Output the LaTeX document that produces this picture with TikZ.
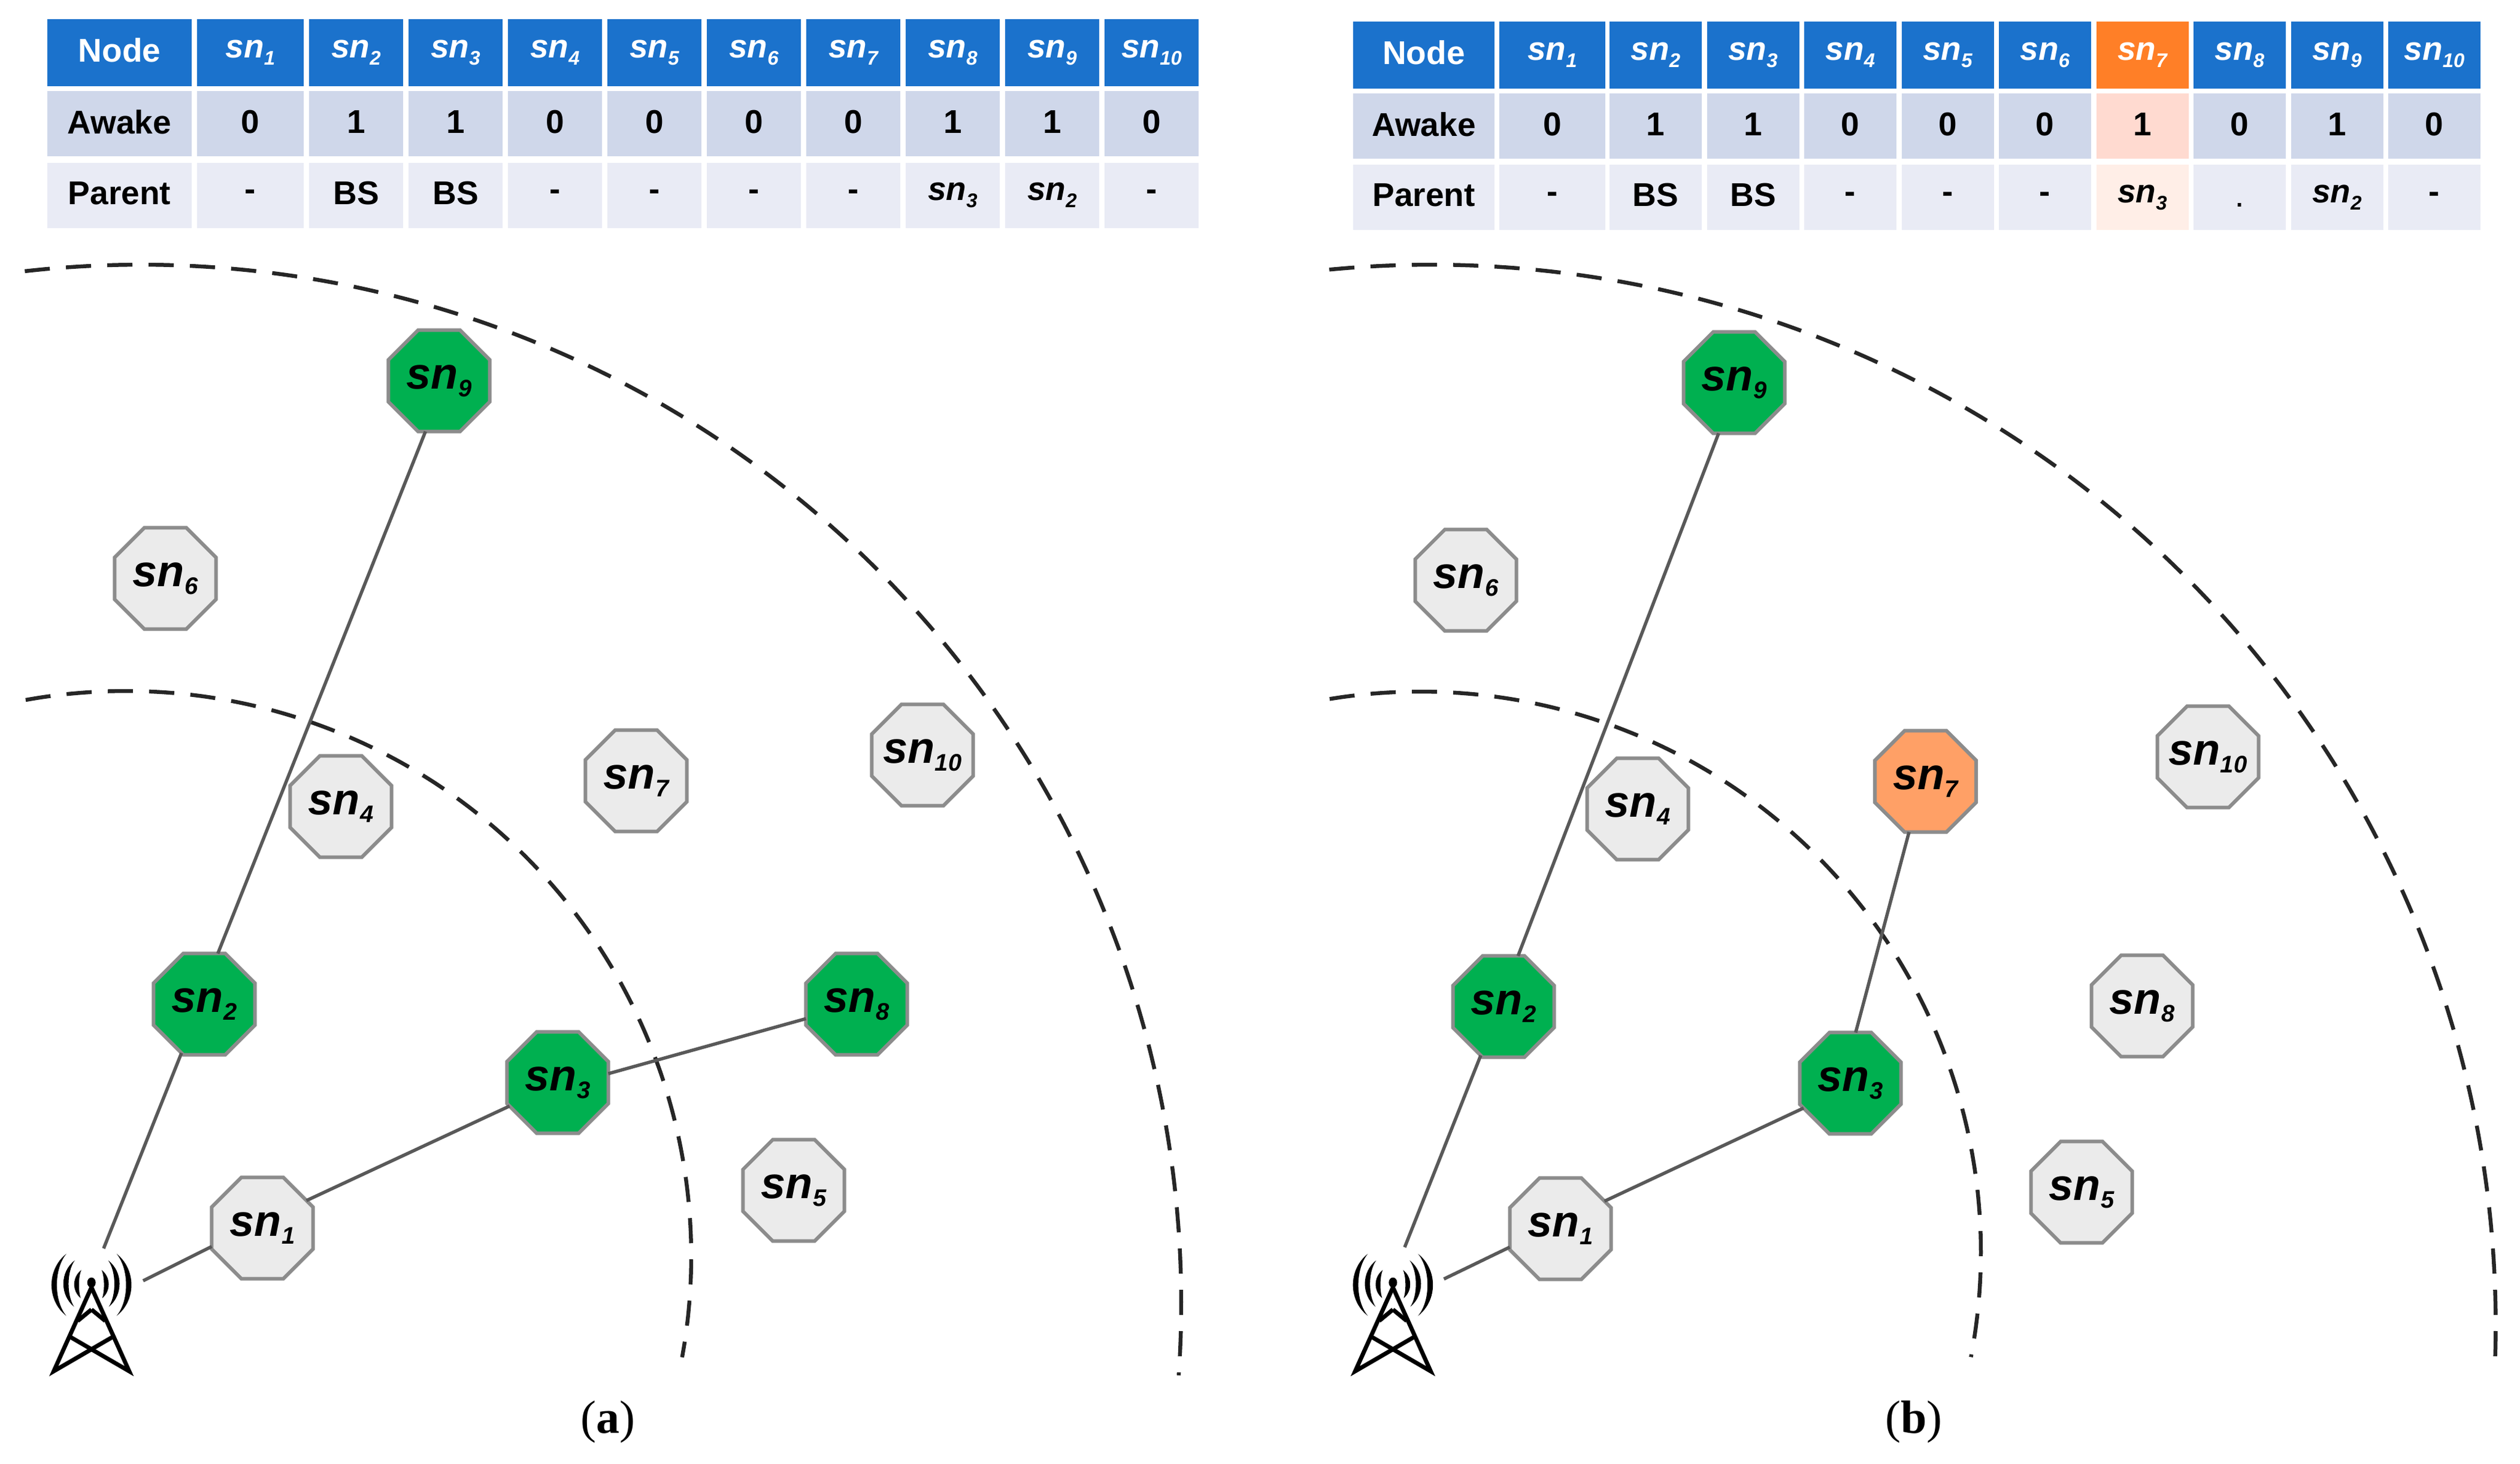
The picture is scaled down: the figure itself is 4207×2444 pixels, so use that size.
\documentclass[tikz,border=0pt]{standalone}
\usepackage{fontspec}
\setmainfont{Liberation Sans}
\newfontfamily\capfont{Liberation Serif}
\usetikzlibrary{shapes.geometric}
\definecolor{hdblue}{HTML}{1B72CC}
\definecolor{hdorange}{HTML}{FF7F27}
\definecolor{rowa}{HTML}{CFD7EA}
\definecolor{rowp}{HTML}{E9EBF5}
\definecolor{hota}{HTML}{FFDAD0}
\definecolor{hotp}{HTML}{FFEEE7}
\definecolor{grn}{HTML}{00B050}
\definecolor{idle}{HTML}{EBEBEB}
\definecolor{wake}{HTML}{FFA066}
\definecolor{edgeg}{HTML}{8C8C8C}
\definecolor{linkg}{HTML}{595959}
\definecolor{dashg}{HTML}{262626}
\newcommand\snt[1]{{\fontsize{55}{60}\selectfont\bfseries\itshape sn\raisebox{-12pt}{\fontsize{33}{36}\selectfont #1}}}
\newcommand\snn[1]{{\fontsize{74}{80}\selectfont\bfseries\itshape sn\raisebox{-13pt}{\fontsize{40}{44}\selectfont #1}}}
\newcommand\plaintxt[1]{{\fontsize{55}{60}\selectfont\bfseries #1}}
\newcommand\rtxt[2]{\plaintxt{\raisebox{#1}{#2}}}
\newcommand\hy{\rtxt{-4pt}{-}}
\newcommand\bs{\rtxt{8pt}{BS}}
\newcommand\dotmark{{\fontsize{40}{44}\selectfont\bfseries\raisebox{-16pt}[0pt][0pt]{.}}}
\tikzset{
  cellbox/.style={inner sep=0pt,outer sep=0pt},
  hd/.style={cellbox,fill=hdblue,text=white,minimum height=112pt},
  hdhot/.style={cellbox,fill=hdorange,text=white,minimum height=112pt},
  aw/.style={cellbox,fill=rowa,minimum height=109pt},
  awhot/.style={cellbox,fill=hota,minimum height=109pt},
  pa/.style={cellbox,fill=rowp,minimum height=109pt},
  pahot/.style={cellbox,fill=hotp,minimum height=109pt},
  octa/.style={regular polygon,regular polygon sides=8,minimum size=183pt,inner sep=-30pt,outer sep=0pt,draw=edgeg,line width=6pt},
  sleepn/.style={octa,fill=idle},
  activen/.style={octa,fill=grn},
  newn/.style={octa,fill=wake},
  linkline/.style={draw=linkg,line width=5.5pt},
  rangearc/.style={draw=dashg,line width=6.5pt,dash pattern=on 42pt off 27pt},
  capt/.style={inner sep=0pt,font=\capfont\fontsize{78}{84}\selectfont},
}
\newcommand\towericon{%
  \begin{scope}[shift={(152.7,0)}]
    \foreach \s in {1,-1}{
      \begin{scope}[xscale=\s]
        \draw[black,line width=7pt,line join=miter,miter limit=20] (0,2150) -- (-63,2290) -- (35,2233);
        \draw[black,line width=7pt] (-23,2206) -- (0,2187);
        \fill[black] (-42,2094) .. controls (-75,2120) and (-75,2172) .. (-42,2197.5) .. controls (-63,2172) and (-63,2120) .. (-42,2094);
        \fill[black] (-28,2105) .. controls (-53,2124) and (-53,2163) .. (-29,2182.4) .. controls (-41.5,2163) and (-41.5,2124) .. (-28,2105);
        \fill[black] (-17,2121) .. controls (-32.6,2133) and (-32.6,2156) .. (-18,2168) .. controls (-22,2156) and (-22,2133) .. (-17,2121);
      \end{scope}
    }
    \fill[black] (0,2142) ellipse[x radius=7,y radius=8.5];
    \draw[black,line width=4pt] (0,2142) -- (0,2152);
  \end{scope}}
\begin{document}
\begin{tikzpicture}[x=1pt,y=-1pt]
\useasboundingbox[fill=white] (0,0) rectangle (4207,2444);
%% ---------- left table
\node[hd,minimum width=241pt] (lh0) at (199.5,88) {\rtxt{8pt}{Node}};
\node[aw,minimum width=241pt] (la0) at (199.5,206.5) {\rtxt{6pt}{Awake}};
\node[pa,minimum width=241pt] (lp0) at (199.5,326) {\rtxt{7pt}{Parent}};
\node[hd,minimum width=178pt] (lh1) at (418,88) {\snt{1}};
\node[aw,minimum width=178pt] (la1) at (418,206.5) {\rtxt{6pt}{0}};
\node[pa,minimum width=178pt] (lp1) at (418,326) {\hy};
\foreach \i/\a/\p in {2/1/\bs,3/1/\bs,4/0/\hy,5/0/\hy,6/0/\hy,7/0/\hy,8/1/\snt{3},9/1/\snt{2},10/0/\hy}{
  \pgfmathsetmacro\cx{594.5+166*(\i-2)}
  \node[hd,minimum width=157pt] (lh\i) at (\cx,88) {\snt{\i}};
  \node[aw,minimum width=157pt] (la\i) at (\cx,206.5) {\rtxt{6pt}{\a}};
  \node[pa,minimum width=157pt] (lp\i) at (\cx,326) {\p};
}
%% ---------- right table
\node[hd,minimum width=236pt] (rh0) at (2377,92) {\rtxt{8pt}{Node}};
\node[aw,minimum width=236pt] (ra0) at (2377,210.5) {\rtxt{6pt}{Awake}};
\node[pa,minimum width=236pt] (rp0) at (2377,329.5) {\rtxt{7pt}{Parent}};
\node[hd,minimum width=177pt] (rh1) at (2591.5,92) {\snt{1}};
\node[aw,minimum width=177pt] (ra1) at (2591.5,210.5) {\rtxt{6pt}{0}};
\node[pa,minimum width=177pt] (rp1) at (2591.5,329.5) {\hy};
\foreach \i/\a/\p/\hs/\as/\ps in {2/1/\bs/hd/aw/pa,3/1/\bs/hd/aw/pa,4/0/\hy/hd/aw/pa,5/0/\hy/hd/aw/pa,6/0/\hy/hd/aw/pa,7/1/\snt{3}/hdhot/awhot/pahot,8/0/\dotmark/hd/aw/pa,9/1/\snt{2}/hd/aw/pa,10/0/\hy/hd/aw/pa}{
  \pgfmathsetmacro\cx{2764+162.5*(\i-2)}
  \node[\hs,minimum width=154pt] (rh\i) at (\cx,92) {\snt{\i}};
  \node[\as,minimum width=154pt] (ra\i) at (\cx,210.5) {\rtxt{6pt}{\a}};
  \node[\ps,minimum width=154pt] (rp\i) at (\cx,329.5) {\p};
}
%% ---------- range arcs
\draw[rangearc] plot[smooth,domain=100.2:-10.3,samples=80] ({210+944*cos(\x)},{2098-944*sin(\x)});
\draw[rangearc] plot[smooth,domain=96.4:-4.0,samples=100] ({235+1737*cos(\x)},{2176-1734*sin(\x)});
\draw[rangearc] plot[smooth,domain=99.3:-10.8,samples=80] ({2371+936*cos(\x)},{2091-936*sin(\x)});
\draw[rangearc] plot[smooth,domain=95.5:-2.4,samples=100] ({2389.5+1777*cos(\x)},{2213-1771*sin(\x)});
%% ---------- left panel
\node[activen] (a9) at (733,636) {\snn{9}};
\node[sleepn] (a6) at (276,966) {\snn{6}};
\node[sleepn] (a4) at (569,1347) {\snn{4}};
\node[sleepn] (a7) at (1062,1304) {\snn{7}};
\node[sleepn] (a10) at (1540,1261) {\snn{10}};
\node[activen] (a2) at (341,1677) {\snn{2}};
\node[activen] (a3) at (931,1808) {\snn{3}};
\node[activen] (a8) at (1430,1677) {\snn{8}};
\node[sleepn] (a5) at (1325,1988) {\snn{5}};
\node[sleepn] (a1) at (438,2051) {\snn{1}};
\coordinate (abu) at (173,2085);
\coordinate (abr) at (239,2139);
\draw[linkline] (abu) -- (a2.245);
\draw[linkline] (a2.75) -- (a9.255);
\draw[linkline] (abr) -- (a1.200);
\draw[linkline] (a1.32) -- (a3.206);
\draw[linkline] (a3.10) -- (a8.196);
\towericon
\node[capt] (capa) at (1015,2375) {(\textbf{a})};
%% ---------- right panel
\node[activen] (b9) at (2895,639) {\snn{9}};
\node[sleepn] (b6) at (2447,969) {\snn{6}};
\node[sleepn] (b4) at (2734,1351) {\snn{4}};
\node[newn] (b7) at (3214.5,1305) {\snn{7}};
\node[sleepn] (b10) at (3686,1264) {\snn{10}};
\node[activen] (b2) at (2510,1681) {\snn{2}};
\node[activen] (b3) at (3089,1809) {\snn{3}};
\node[sleepn] (b8) at (3576,1680) {\snn{8}};
\node[sleepn] (b5) at (3475,1991) {\snn{5}};
\node[sleepn] (b1) at (2605,2052) {\snn{1}};
\coordinate (bbu) at (2345,2083);
\coordinate (bbr) at (2410.5,2136);
\draw[linkline] (bbu) -- (b2.245);
\draw[linkline] (b2.74) -- (b9.253);
\draw[linkline] (bbr) -- (b1.200);
\draw[linkline] (b1.32) -- (b3.208);
\draw[linkline] (b3.84) -- (b7.252);
\begin{scope}[xshift=2172.7pt]\towericon\end{scope}
\node[capt] (capb) at (3195,2375) {(\textbf{b})};
\end{tikzpicture}
\end{document}
